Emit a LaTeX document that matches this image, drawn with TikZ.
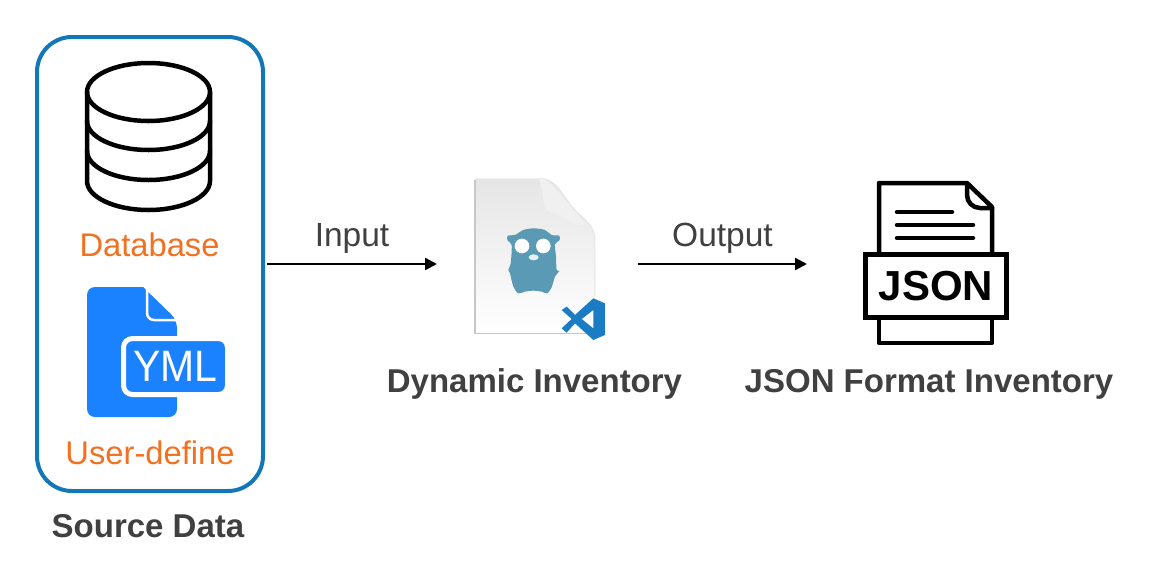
\documentclass[tikz,border=0pt]{standalone}
\usepackage{fontspec}
\setmainfont{Liberation Sans}
\usepackage{xcolor}
\usepackage{graphicx}
\usetikzlibrary{arrows.meta,positioning}
\definecolor{boxblue}{HTML}{1277B8}
\definecolor{ymlblue}{HTML}{1A82FF}
\definecolor{labelorange}{HTML}{F37021}
\definecolor{textgray}{HTML}{404040}
\definecolor{gophercol}{HTML}{5B9AB5}
\definecolor{vscol}{HTML}{1A7CC4}

\begin{document}
\begin{tikzpicture}[
    x=1pt, y=-1pt,
    srcbox/.style={rectangle, draw=boxblue, line width=4pt, rounded corners=35pt, minimum width=226pt, minimum height=454pt, outer sep=4pt},
    slot/.style={rectangle, inner sep=0pt, outer sep=0pt, minimum height=160pt},
    orangelabel/.style={anchor=base, inner sep=0pt, text=labelorange, font=\fontsize{32.7}{36}\selectfont},
    boldlabel/.style={anchor=base, inner sep=0pt, text=textgray, font=\fontsize{33}{36}\selectfont\bfseries},
    arrowlabel/.style={above=9pt, midway, inner sep=0pt, text=textgray, font=\fontsize{33.5}{36}\selectfont},
    arrow/.style={-{Triangle[length=12pt,width=12pt]}, line width=2.4pt},
    icon/.style={line width=4.5pt, line join=round, line cap=round}
]
\useasboundingbox (0,0) rectangle (1156,584);

\node[srcbox] (source) at (150,264) {};
\node[slot, minimum width=201pt] (gofile) at (537.5,264) {};
\node[slot, minimum width=256pt] (jsonfile) at (935,264) {};

\draw[icon] (148.5,92) ellipse (61.5pt and 29pt);
\draw[icon] (87,92) -- (87,181) arc (180:360:61.5pt and 29pt) -- (210,92);
\draw[icon] (87,121) arc (180:360:61.5pt and 29pt);
\draw[icon] (87,151) arc (180:360:61.5pt and 29pt);
\node[orangelabel] (dblabel) at (149.5,256) {Database};

\fill[ymlblue, rounded corners=8pt] (143,287) -- (87,287) -- (87,417) -- (177,417) -- (177,320) [sharp corners] -- cycle;
\draw[white, line width=2.5pt, rounded corners=7pt] (147,287) -- (147,320) -- (178,320);
\node[rectangle, fill=ymlblue, draw=white, line width=5pt, rounded corners=9pt, minimum width=104pt, minimum height=56pt, inner sep=0pt, text=white, font=\fontsize{44}{46}\selectfont] (ymltag) at (175.5,366.5) {\scalebox{0.93}[1]{YML}};
\node[orangelabel] (userlabel) at (150,464) {User-define};
\node[boldlabel] (srclabel) at (148,537) {Source Data};

\begin{scope}[shift={(460,170)}, x=0.3333pt, y=-0.3333pt]
\shade[top color=black!10, middle color=white, bottom color=white] (45,25) -- (235,25) to[out=0, in=135] (350,125) to[out=-45, in=90] (405,210) -- (405,490) -- (45,490) -- cycle;
\draw[black!22, line width=1.5pt] (45,30) -- (45,490) -- (405,490);
\draw[black!10, line width=1pt] (235,25) to[out=0, in=135] (350,125) to[out=-45, in=90] (405,210) -- (405,380);
\fill[black!6] (235,25) to[out=-60, in=170] (280,130) to[out=-10, in=-150] (375,160) to[out=130, in=-45] (270,40) to[out=135, in=0] cycle;
\fill[gophercol] plot[smooth cycle, tension=0.5] coordinates {(221,175) (255,180) (275,195) (298,197) (298,212) (285,222) (288,260) (290,300) (298,303) (285,320) (275,352) (262,370) (245,365) (221,362) (195,365) (175,370) (160,350) (150,310) (145,300) (152,280) (155,225) (143,212) (143,197) (165,195) (190,180)};
\fill[white] (186,228) circle (22);
\fill[white] (250,228) circle (22);
\fill[white!85!gophercol] (221,262) ellipse (15 and 9);
\fill[vscol, even odd rule] (400,385) -- (435,400) -- (435,495) -- (400,510) -- (345,460) -- (320,488) -- (305,475) -- (335,447) -- (305,420) -- (320,410) -- (345,435) -- cycle (400,420) -- (365,447) -- (400,475) -- cycle;
\end{scope}
\node[boldlabel] (golabel) at (534.5,392) {Dynamic Inventory};

\draw[icon] (879,253) -- (879,183) -- (967,183) -- (992,207) -- (992,253);
\draw[icon] (967,185) -- (967,195) to[out=-90, in=180] (980,208) -- (992,208);
\draw[icon] (897,212) -- (952,212);
\draw[icon] (897,225) -- (973,225);
\draw[icon] (897,238) -- (973,238);
\node[rectangle, draw, line width=4.5pt, minimum width=141pt, minimum height=63pt, inner sep=0pt, font=\fontsize{42}{44}\selectfont\bfseries] (jsontag) at (936,286) {JSON};
\draw[icon] (879,319) -- (879,343) -- (992,343) -- (992,319);
\node[boldlabel] (jsonlabel) at (929,392) {JSON Format Inventory};

\draw[arrow] (source) -- node[arrowlabel] {Input} (gofile);
\draw[arrow] (gofile) -- node[arrowlabel] {Output} (jsonfile);
\end{tikzpicture}
\end{document}
